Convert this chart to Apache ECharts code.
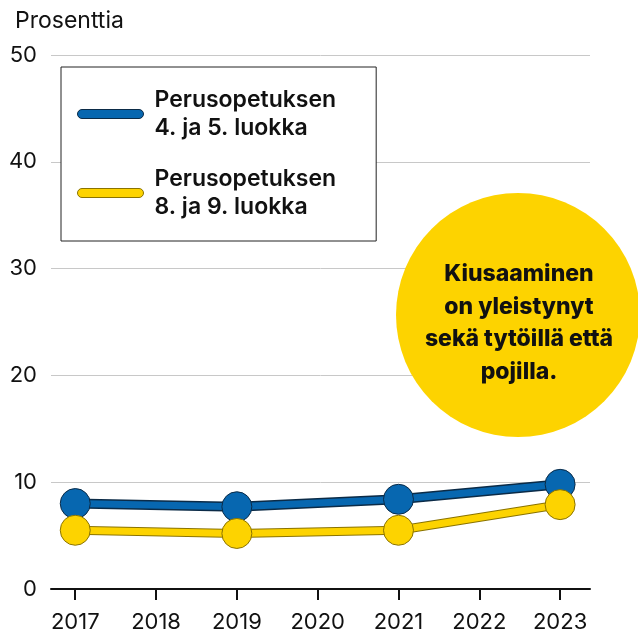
<!DOCTYPE html>
<html>
<head>
    <meta charset="utf-8">
    <title>kiusaaminen</title>
    <script src="https://cdn.jsdelivr.net/npm/echarts@6/dist/echarts.min.js"></script>
    <style>
        body { margin: 0; background: #fff; }
    </style>
</head>
<body>
    <div id="chart" style="width: 638px;height:633px;"></div>
    <script type="text/javascript">
        var years = [2017, 2019, 2021, 2023];
        var tickYears = [2017, 2018, 2019, 2020, 2021, 2022, 2023];
        var alakoulu = [8.0, 7.7, 8.4, 9.8];
        var ylakoulu = [5.5, 5.2, 5.5, 7.9];
        var seriesNames = ['4. ja 5. luokka', '8. ja 9. luokka'];
        var calloutText = 'Kiusaaminen\non yleistynyt\nsekä tytöillä että\npojilla.';

        var font = 'Inter';
        function pairs(vals) {
            return vals.map(function (v, i) { return [years[i], v]; });
        }

        var blue = '#0767b0', blueDark = '#0b2b47';
        var yellow = '#fdd300', yellowDark = '#8a7300';
        // pill shaped legend line
        var pill = 'path://M4.5,0 L61.5,0 A4.5,4.5 0 0 1 61.5,9 L4.5,9 A4.5,4.5 0 0 1 4.5,0 Z';

        var myChart = echarts.init(document.getElementById('chart'));
        var option = {
            animation: false,
            textStyle: { fontFamily: font },
            title: {
                text: 'Prosenttia',
                left: 10, top: 5,
                textStyle: { fontSize: 23, fontWeight: 'normal', color: '#111', fontFamily: font }
            },
            grid: { left: 51, right: 48, top: 55, bottom: 44 },
            legend: {
                left: 61, top: 67,
                orient: 'vertical',
                backgroundColor: '#fff',
                borderColor: '#222',
                borderWidth: 1,
                borderRadius: 0,
                padding: [5, 40, 6, 16],
                itemWidth: 66,
                itemHeight: 9,
                itemGap: -5,
                icon: pill,
                data: [
                    { name: seriesNames[0], itemStyle: { color: blue, borderColor: blueDark, borderWidth: 1 } },
                    { name: seriesNames[1], itemStyle: { color: yellow, borderColor: yellowDark, borderWidth: 1 } }
                ],
                formatter: function (name) { return 'Perusopetuksen\n' + name; },
                textStyle: {
                    fontSize: 23, fontWeight: 600, color: '#111', lineHeight: 28,
                    padding: [28, 0, 0, 6], fontFamily: font
                }
            },
            xAxis: {
                type: 'value',
                min: 2016.7,
                max: 2023.37,
                splitLine: { show: false },
                axisLine: { lineStyle: { color: '#111', width: 2 } },
                axisTick: { customValues: tickYears, length: 11, lineStyle: { color: '#111', width: 2 } },
                axisLabel: {
                    customValues: tickYears,
                    formatter: function (v) { return String(v); },
                    fontSize: 22, color: '#111', margin: 22
                }
            },
            yAxis: {
                type: 'value',
                min: 0, max: 50, interval: 10,
                axisLine: { show: false },
                axisTick: { show: false },
                splitLine: { lineStyle: { color: '#c8c8c8', width: 1 } },
                axisLabel: { fontSize: 22, color: '#111', margin: 14 }
            },
            series: [
                {
                    name: 'blue-outline', type: 'line', data: pairs(alakoulu), silent: true,
                    symbol: 'none', lineStyle: { color: blueDark, width: 10 }
                },
                {
                    name: seriesNames[0], type: 'line', data: pairs(alakoulu),
                    symbol: 'circle', symbolSize: 30,
                    lineStyle: { color: blue, width: 7 },
                    itemStyle: { color: blue, borderColor: blueDark, borderWidth: 1 }
                },
                {
                    name: 'yellow-outline', type: 'line', data: pairs(ylakoulu), silent: true,
                    symbol: 'none', lineStyle: { color: yellowDark, width: 9 }
                },
                {
                    name: seriesNames[1], type: 'line', data: pairs(ylakoulu),
                    symbol: 'circle', symbolSize: 30,
                    lineStyle: { color: yellow, width: 7 },
                    itemStyle: { color: yellow, borderColor: yellowDark, borderWidth: 1 }
                }
            ],
            graphic: [
                {
                    type: 'circle', z: 100,
                    shape: { cx: 518, cy: 315, r: 122 },
                    style: { fill: '#fdd300' }
                },
                {
                    type: 'text', z: 101,
                    x: 519, y: 323,
                    style: {
                        text: calloutText,
                        fontSize: 23, fontWeight: 800, fontFamily: font,
                        lineHeight: 32.5, fill: '#111',
                        align: 'center', verticalAlign: 'middle'
                    }
                }
            ]
        };
        myChart.setOption(option);
    </script>
</body>
</html>
